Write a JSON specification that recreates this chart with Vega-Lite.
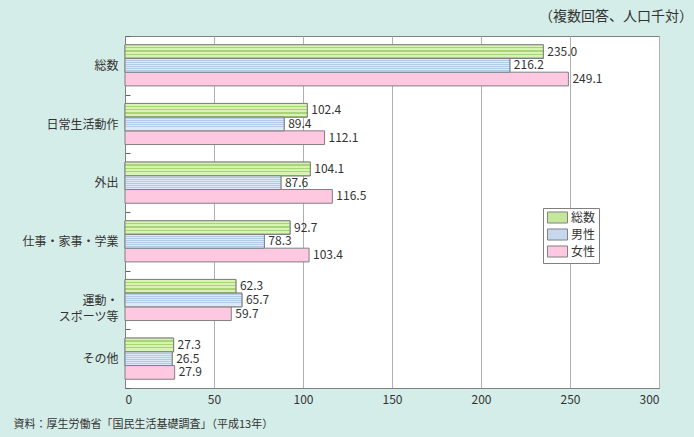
{
  "$schema": "https://vega.github.io/schema/vega-lite/v6.json",
  "width": 534,
  "height": 352,
  "autosize": "none",
  "padding": {"left": 125, "top": 36, "right": 35, "bottom": 49},
  "background": "#d5ede8",
  "config": {
    "font": "Noto Sans CJK JP",
    "view": {"fill": "white", "stroke": "#808080", "strokeWidth": 1}
  },
  "title": {
    "text": "（複数回答、人口千対）",
    "anchor": "end",
    "orient": "top",
    "fontSize": 14,
    "fontWeight": "normal",
    "color": "#333333",
    "offset": 6,
    "dx": 34
  },
  "data": {
    "values": [
      {"cat": "総数", "series": "総数", "value": 235.0},
      {"cat": "総数", "series": "男性", "value": 216.2},
      {"cat": "総数", "series": "女性", "value": 249.1},
      {"cat": "日常生活動作", "series": "総数", "value": 102.4},
      {"cat": "日常生活動作", "series": "男性", "value": 89.4},
      {"cat": "日常生活動作", "series": "女性", "value": 112.1},
      {"cat": "外出", "series": "総数", "value": 104.1},
      {"cat": "外出", "series": "男性", "value": 87.6},
      {"cat": "外出", "series": "女性", "value": 116.5},
      {"cat": "仕事・家事・学業", "series": "総数", "value": 92.7},
      {"cat": "仕事・家事・学業", "series": "男性", "value": 78.3},
      {"cat": "仕事・家事・学業", "series": "女性", "value": 103.4},
      {"cat": "運動・スポーツ等", "series": "総数", "value": 62.3},
      {"cat": "運動・スポーツ等", "series": "男性", "value": 65.7},
      {"cat": "運動・スポーツ等", "series": "女性", "value": 59.7},
      {"cat": "その他", "series": "総数", "value": 27.3},
      {"cat": "その他", "series": "男性", "value": 26.5},
      {"cat": "その他", "series": "女性", "value": 27.9}
    ]
  },
  "encoding": {
    "y": {
      "field": "cat",
      "type": "nominal",
      "sort": null,
      "scale": {"paddingInner": 0, "paddingOuter": 0},
      "axis": {
        "title": null,
        "domain": true,
        "domainColor": "#808080",
        "ticks": true,
        "tickBand": "extent",
        "tickSize": -5,
        "tickColor": "#606060",
        "labelPadding": 12,
        "labelFontSize": 12,
        "labelLineHeight": 16,
        "labelColor": "#333333",
        "labelExpr": "datum.label == '運動・スポーツ等' ? ['運動・', 'スポーツ等'] : datum.label"
      }
    },
    "yOffset": {
      "field": "series",
      "type": "nominal",
      "sort": ["総数", "男性", "女性"],
      "scale": {"domain": ["総数", "男性", "女性"], "paddingInner": 0, "paddingOuter": 0.64}
    },
    "x": {
      "field": "value",
      "type": "quantitative",
      "scale": {"domain": [0, 300], "nice": false},
      "axis": {
        "values": [0, 50, 100, 150, 200, 250, 300],
        "grid": true,
        "gridColor": "#b0b0b0",
        "ticks": false,
        "domainColor": "#808080",
        "labelPadding": 6,
        "labelFontSize": 12,
        "labelColor": "#333333",
        "title": "資料：厚生労働省「国民生活基礎調査」（平成13年）",
        "titleFontSize": 11,
        "titleFontWeight": "normal",
        "titleColor": "#333333",
        "titleAnchor": "start",
        "titleAlign": "left",
        "titleX": -112,
        "titleY": 30
      }
    }
  },
  "layer": [
    {
      "mark": {"type": "bar", "stroke": "#808080", "strokeWidth": 1},
      "encoding": {
        "color": {
          "field": "series",
          "type": "nominal",
          "scale": {"domain": ["総数", "男性", "女性"], "range": ["#c4e79c", "#c6d8ee", "#ffc8e1"]},
          "legend": {
            "title": null,
            "orient": "none",
            "legendX": 418,
            "legendY": 172,
            "fillColor": "white",
            "strokeColor": "#808080",
            "padding": 3,
            "rowPadding": 0,
            "labelFontSize": 12,
            "labelColor": "#333333",
            "symbolOffset": 5,
            "labelOffset": 7,
            "symbolType": "M-1.67,-0.92H1.67V0.92H-1.67Z",
            "symbolSize": 144,
            "symbolStrokeColor": "#808080",
            "symbolStrokeWidth": 1,
            "symbolOpacity": 1
          }
        }
      }
    },
    {
      "transform": [{"filter": "datum.series == '総数'"}],
      "mark": {
        "type": "bar",
        "stroke": "#808080",
        "strokeWidth": 1,
        "fill": {
          "gradient": "linear",
          "x1": 0, "y1": 0, "x2": 0, "y2": 1,
          "stops": [
            {"offset": 0, "color": "#daf2b6"},
            {"offset": 0.16, "color": "#daf2b6"},
            {"offset": 0.16, "color": "#a6d673"},
            {"offset": 0.25, "color": "#a6d673"},
            {"offset": 0.25, "color": "#daf2b6"},
            {"offset": 0.41, "color": "#daf2b6"},
            {"offset": 0.41, "color": "#a6d673"},
            {"offset": 0.5, "color": "#a6d673"},
            {"offset": 0.5, "color": "#daf2b6"},
            {"offset": 0.66, "color": "#daf2b6"},
            {"offset": 0.66, "color": "#a6d673"},
            {"offset": 0.75, "color": "#a6d673"},
            {"offset": 0.75, "color": "#daf2b6"},
            {"offset": 0.91, "color": "#daf2b6"},
            {"offset": 0.91, "color": "#a6d673"},
            {"offset": 1, "color": "#a6d673"}
          ]
        }
      }
    },
    {
      "transform": [{"filter": "datum.series == '男性'"}],
      "mark": {
        "type": "bar",
        "stroke": "#808080",
        "strokeWidth": 1,
        "fill": {
          "gradient": "linear",
          "x1": 0, "y1": 0, "x2": 0, "y2": 1,
          "stops": [
            {"offset": 0, "color": "#dce9f7"},
            {"offset": 0.08, "color": "#dce9f7"},
            {"offset": 0.08, "color": "#b3cbe8"},
            {"offset": 0.15, "color": "#b3cbe8"},
            {"offset": 0.15, "color": "#dce9f7"},
            {"offset": 0.23, "color": "#dce9f7"},
            {"offset": 0.23, "color": "#b3cbe8"},
            {"offset": 0.3, "color": "#b3cbe8"},
            {"offset": 0.3, "color": "#dce9f7"},
            {"offset": 0.38, "color": "#dce9f7"},
            {"offset": 0.38, "color": "#b3cbe8"},
            {"offset": 0.45, "color": "#b3cbe8"},
            {"offset": 0.45, "color": "#dce9f7"},
            {"offset": 0.53, "color": "#dce9f7"},
            {"offset": 0.53, "color": "#b3cbe8"},
            {"offset": 0.6, "color": "#b3cbe8"},
            {"offset": 0.6, "color": "#dce9f7"},
            {"offset": 0.68, "color": "#dce9f7"},
            {"offset": 0.68, "color": "#b3cbe8"},
            {"offset": 0.75, "color": "#b3cbe8"},
            {"offset": 0.75, "color": "#dce9f7"},
            {"offset": 0.83, "color": "#dce9f7"},
            {"offset": 0.83, "color": "#b3cbe8"},
            {"offset": 0.9, "color": "#b3cbe8"},
            {"offset": 0.9, "color": "#dce9f7"},
            {"offset": 1, "color": "#dce9f7"}
          ]
        }
      }
    },
    {
      "mark": {"type": "text", "align": "left", "baseline": "middle", "dx": 4, "fontSize": 12, "color": "#333333"},
      "encoding": {
        "text": {"field": "value", "type": "quantitative", "format": ".1f"}
      }
    }
  ]
}
